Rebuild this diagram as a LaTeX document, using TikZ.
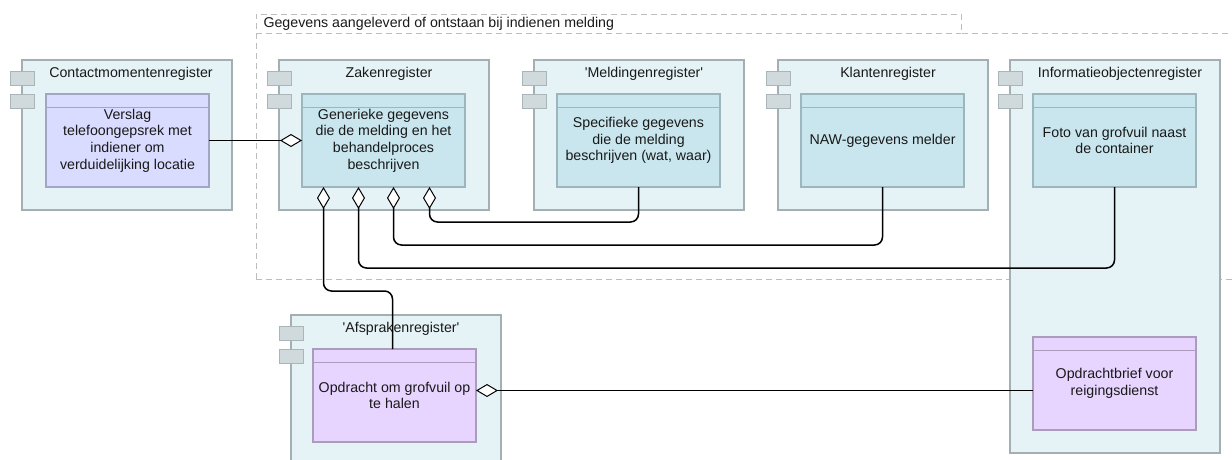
\documentclass[tikz,border=0pt]{standalone}
\usepackage{fontspec}
\setmainfont{Liberation Sans}
\usetikzlibrary{arrows.meta,positioning,calc}

\definecolor{compfill}{HTML}{E5F3F7}
\definecolor{compline}{HTML}{A3AFB2}
\definecolor{tabfill}{HTML}{D0DADD}
\definecolor{tabline}{HTML}{A9B5B8}
\definecolor{bluefill}{HTML}{C9E6EE}
\definecolor{blueline}{HTML}{9DB5BC}
\definecolor{lavfill}{HTML}{DADCFF}
\definecolor{lavline}{HTML}{A3A5C6}
\definecolor{purpfill}{HTML}{E8D5FF}
\definecolor{purpline}{HTML}{AC9CBC}
\definecolor{grpline}{HTML}{BDBDBD}

\begin{document}
\begin{tikzpicture}[
    x=1pt, y=-1pt,
    txt/.style={font=\fontsize{14.2}{16.6}\selectfont, text=black!90},
    comp/.style={draw=compline, fill=compfill, line width=1.5pt, anchor=north west,
                 minimum width=210pt, minimum height=150pt, inner sep=0pt, outer sep=0pt},
    tab/.style={draw=tabline, fill=tabfill, line width=1pt, inner sep=0pt, outer sep=0pt,
                minimum width=24pt, minimum height=14pt},
    dobj/.style={txt, draw=#1line, fill=#1fill, line width=1.2pt, align=center,
                 inner sep=0pt, outer sep=0pt, minimum width=163pt, minimum height=93pt,
                 path picture={\draw[#1line, line width=1.4pt]
                   ([yshift=-13.5pt]path picture bounding box.north west) --
                   ([yshift=-13.5pt]path picture bounding box.north east);}},
    agg/.style={{Diamond[open, fill=white, length=22pt, width=13pt, line width=1pt]}-,
                line width=1.5pt, rounded corners=8pt},
    grp/.style={draw=grpline, line width=1pt, dash pattern=on 6pt off 4pt}
  ]
    \useasboundingbox (0,0) rectangle (1232,459);
    \clip (0,0) rectangle (1232,459);

    % Group
    \draw[grp] (256,279) -- (256,14) -- (961,14) -- (961,33) -- (1240,33);
    \draw[grp] (256,33) -- (961,33);
    \draw[grp] (256,279) -- (1240,279);
    \node[txt, anchor=west] (grplbl) at (260,23.5) {Gegevens aangeleverd of ontstaan bij indienen melding};

    % Components
    \node[comp] (contact) at (22,60) {};
    \node[comp] (zaak) at (279,60) {};
    \node[comp] (meld) at (534,60) {};
    \node[comp] (klant) at (778,60) {};
    \node[comp, minimum height=393pt] (info) at (1010,60) {};
    \node[comp, minimum height=160pt] (afspr) at (291,315) {};

    \foreach \c in {contact,zaak,meld,klant,info,afspr} {
      \node[tab, below right=11pt and -12pt of \c.north west] (\c tab1) {};
      \node[tab, below right=34pt and -12pt of \c.north west] (\c tab2) {};
    }

    \node[txt] (contactt) at ([xshift=4pt,yshift=-14pt]contact.north) {Contactmomentenregister};
    \node[txt] (zaakt) at ([xshift=5pt,yshift=-14pt]zaak.north) {Zakenregister};
    \node[txt] (meldt) at ([xshift=5pt,yshift=-14pt]meld.north) {\textquotesingle Meldingenregister\textquotesingle};
    \node[txt] (klantt) at ([xshift=5pt,yshift=-14pt]klant.north) {Klantenregister};
    \node[txt] (infot) at ([xshift=5pt,yshift=-14pt]info.north) {Informatieobjectenregister};
    \node[txt] (afsprt) at ([xshift=5pt,yshift=-14pt]afspr.north) {\textquotesingle Afsprakenregister\textquotesingle};

    % Data objects
    \node[dobj=lav, below right=34pt and 24pt of contact.north west] (cinner)
      {Verslag\\telefoongepsrek met\\indiener om\\verduidelijking locatie};
    \node[dobj=blue, below right=34pt and 23pt of zaak.north west] (zinner)
      {Generieke gegevens\\die de melding en het\\behandelproces\\beschrijven};
    \node[dobj=blue, below right=34pt and 23pt of meld.north west] (minner)
      {Specifieke gegevens\\die de melding\\beschrijven (wat, waar)};
    \node[dobj=blue, below right=34pt and 23pt of klant.north west] (kinner)
      {NAW-gegevens melder};
    \node[dobj=blue, below right=34pt and 23pt of info.north west] (finner)
      {Foto van grofvuil naast\\de container};
    \node[dobj=purp, below right=277pt and 23pt of info.north west] (binner)
      {Opdrachtbrief voor\\reigingsdienst};
    \node[dobj=purp, below right=34pt and 22pt of afspr.north west] (ainner)
      {Opdracht om grofvuil op\\te halen};

    % Connectors
    \draw[agg] (zinner.west) -- (cinner.east);
    \draw[agg] ([xshift=46pt]zinner.south) -- ++(0,35) -| (minner.south);
    \draw[agg] ([xshift=10pt]zinner.south) -- ++(0,58) -| (kinner.south);
    \draw[agg] ([xshift=-25pt]zinner.south) -- ++(0,81) -| (finner.south);
    \draw[agg] ([xshift=-60pt]zinner.south) -- ++(0,104) -| ([xshift=-2pt]ainner.north);
    \draw[agg] ([yshift=5pt]ainner.east) -- ([yshift=5pt]ainner.east -| binner.west);
  \end{tikzpicture}
\end{document}
